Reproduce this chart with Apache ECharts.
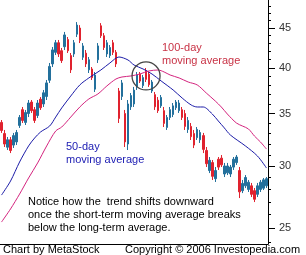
<!DOCTYPE html>
<html>
<head>
<meta charset="utf-8">
<script src="https://cdn.jsdelivr.net/npm/echarts@6/dist/echarts.min.js"></script>
<style>
html,body{margin:0;padding:0;background:#fff;}
#chart{width:306px;height:255px;}
</style>
</head>
<body>
<div id="chart"></div>
<script>
// Daily price bars (open, close, low, high)
const opens = [34.1,33.0,31.7,32.4,31.9,32.2,33.8,35.4,34.1,35.0,
  36.2,35.4,34.8,36.5,36.0,36.8,38.6,40.5,41.9,43.1,
  42.1,42.6,43.5,41.5,41.7,44.2,45.0,41.3,41.8,39.8,
  39.9,37.6,41.0,45.3,44.0,41.7,41.5,43.1,41.9,37.4,
  36.8,35.0,32.0,35.7,36.0,37.9,39.3,38.0,39.7,39.3,
  37.4,37.0,36.4,35.8,35.3,33.6,34.6,34.9,35.6,35.3,
  35.4,35.0,33.4,33.7,33.0,32.6,32.4,32.8,31.4,29.6,
  30.3,28.9,30.6,30.7,29.3,29.4,29.3,29.9,30.3,29.6,
  27.9,28.3,28.0,28.3,27.9,27.6,28.0,28.1,28.3];
const closes = [33.3,32.0,32.4,31.4,32.8,33.1,34.6,34.3,35.1,36.1,
  35.3,34.3,36.1,35.6,37.2,38.3,40.2,42.2,43.1,41.7,
  40.9,44.1,42.1,39.8,43.1,45.4,43.4,42.7,40.5,41.0,
  38.9,39.2,42.7,44.0,42.5,43.1,42.5,41.9,40.5,34.5,
  38.3,32.2,36.0,36.9,37.5,39.2,38.5,38.9,38.7,38.1,
  38.4,35.7,35.3,36.7,34.0,34.6,35.4,35.8,36.2,36.1,
  34.6,33.7,34.3,32.7,31.9,33.4,33.1,31.5,30.2,30.5,
  29.1,29.6,29.9,30.1,30.0,30.0,29.9,30.6,30.8,27.8,
  28.5,29.0,28.6,27.6,27.2,28.3,28.6,28.8,28.9];
const lows = [33.06,31.72,31.44,31.16,31.63,31.91,33.55,34.04,33.84,34.64,
  35.06,34.04,34.54,35.37,35.68,36.42,38.29,40.13,41.57,41.33,
  40.61,42.19,41.82,39.43,41.33,43.83,43.06,40.97,40.13,39.43,
  38.63,37.29,40.61,43.71,42.19,41.33,41.21,41.57,40.13,34.04,
  36.42,31.72,31.44,35.37,35.68,37.51,38.29,37.73,38.40,37.85,
  37.18,35.37,35.06,35.58,33.64,33.35,34.34,34.64,35.37,35.06,
  34.34,33.35,33.06,32.38,31.62,32.38,32.10,31.16,29.91,29.38,
  28.79,28.62,29.65,29.91,29.04,29.21,29.04,29.65,30.09,27.30,
  27.70,28.11,27.79,27.38,26.98,27.38,27.79,27.95,28.12];
const highs = [34.34,33.35,32.67,32.67,33.06,33.35,34.85,35.68,35.37,36.42,
  36.42,35.68,36.42,36.74,37.51,38.63,40.61,42.56,43.45,43.45,
  42.44,44.49,43.83,41.82,43.45,45.80,45.39,43.06,42.19,41.33,
  40.13,39.55,43.06,45.66,44.35,43.45,42.81,43.45,42.19,37.73,
  38.63,35.37,36.42,37.18,37.85,39.55,39.55,39.20,40.01,39.55,
  38.63,37.29,36.74,36.96,35.68,34.85,35.68,36.10,36.42,36.42,
  35.68,35.37,34.64,34.04,33.35,33.64,33.35,33.06,31.72,30.80,
  30.53,29.91,30.80,30.98,30.27,30.27,30.09,30.80,30.98,29.91,
  28.79,29.21,28.79,28.54,28.12,28.54,28.79,28.96,29.04];

// 50-day moving average (read at selected days)
const ma50Days = [0,3,6,9,11,13,16,18,20,23,26,29,33,36,39,42,44,47,50,53,57,60,63,65,67,70,72,74,76,81,85,88];
const ma50Values = [27.54,28.70,30.35,31.82,32.57,33.16,33.74,34.64,35.58,36.85,38.07,38.86,39.78,40.61,41.33,40.97,40.37,39.90,39.31,38.52,37.51,36.63,35.89,35.68,35.68,34.95,34.24,33.55,32.86,31.82,30.89,29.82];

// 100-day moving average (read at selected days)
const ma100Days = [0,3,6,9,12,15,18,20,23,26,29,32,35,38,40,43,46,49,52,54,56,59,62,65,68,71,73,75,78,80,82,84,86,88];
const ma100Values = [25.44,26.44,27.62,28.96,30.27,31.82,33.25,33.64,34.64,35.68,36.53,37.07,37.96,38.74,38.97,39.09,39.32,39.67,39.78,39.55,39.20,38.86,38.40,38.07,37.18,36.31,35.68,34.95,34.04,33.74,33.45,32.76,32.19,31.53];

// Axis ticks
const yMin = 23.85, yMax = 48.87;
const majorTicks = [25,30,35,40,45];
const minorTicks = [24,25,26,27,28,29,30,31,32,33,34,35,36,37,38,39,40,41,42,43,44,45,46,47,48];

// Crossover highlight (day, price)
const crossDay = 48, crossPrice = 39.09;

const days = opens.map((_, i) => i);
const ohlc = opens.map((o, i) => [o, closes[i], lows[i], highs[i]]);
const ma50 = ma50Days.map((d, i) => [d, ma50Values[i]]);
const ma100 = ma100Days.map((d, i) => [d, ma100Values[i]]);

const FONT = '"Liberation Sans", Arial, sans-serif';
const chart = echarts.init(document.getElementById('chart'), null, {renderer: 'canvas'});
chart.setOption({
  animation: false,
  backgroundColor: '#fff',
  grid: {left: 0, right: 38, top: 0, bottom: 11, containLabel: false},
  xAxis: {
    type: 'category', data: days, boundaryGap: true,
    axisLine: {show: true, lineStyle: {color: '#000', width: 1}},
    axisTick: {show: false}, axisLabel: {show: false}, splitLine: {show: false}
  },
  yAxis: [{
    type: 'log', logBase: 10, position: 'right', min: yMin, max: yMax,
    axisLine: {show: true, lineStyle: {color: '#000', width: 1}},
    axisTick: {show: true, customValues: majorTicks, length: 7, lineStyle: {color: '#000'}},
    axisLabel: {show: true, customValues: majorTicks, margin: 11, color: '#333', fontSize: 11, fontFamily: FONT},
    splitLine: {show: false}
  }, {
    type: 'log', logBase: 10, position: 'right', min: yMin, max: yMax,
    axisLine: {show: false},
    axisTick: {show: true, customValues: minorTicks, length: 3, lineStyle: {color: '#000'}},
    axisLabel: {show: false},
    splitLine: {show: false}
  }],
  series: [{
    type: 'candlestick', data: ohlc, barWidth: 2,
    itemStyle: {color: '#23709c', color0: '#e0222e', borderColor: '#23709c', borderColor0: '#e0222e', borderWidth: 1},
    markPoint: {
      silent: true,
      data: [{coord: [crossDay, crossPrice], symbol: 'circle', symbolSize: 28,
        itemStyle: {color: 'rgba(0,0,0,0)', borderColor: '#444', borderWidth: 1.3},
        label: {show: false}}]
    }
  }, {
    type: 'line', data: ma50, connectNulls: true, smooth: 0.3, showSymbol: false,
    lineStyle: {color: '#1c1ca8', width: 1}
  }, {
    type: 'line', data: ma100, connectNulls: true, smooth: 0.3, showSymbol: false,
    lineStyle: {color: '#d4237e', width: 1}
  }],
  graphic: [
    {type: 'text', left: 162, top: 41, style: {text: '100-day\nmoving average', fill: '#c83245', font: '11px ' + FONT, lineHeight: 13}},
    {type: 'text', left: 66, top: 140, style: {text: '50-day\nmoving average', fill: '#2020b4', font: '11px ' + FONT, lineHeight: 13}},
    {type: 'text', left: 28, top: 195, style: {text: 'Notice how the  trend shifts downward\nonce the short-term moving average breaks\nbelow the long-term average.', fill: '#000', font: '11px ' + FONT, lineHeight: 13}},
    {type: 'text', left: 3, top: 244, style: {text: 'Chart by MetaStock', fill: '#000', font: '11px ' + FONT}},
    {type: 'text', left: 125, top: 244, style: {text: 'Copyright \u00a9 2006 Investopedia.com', fill: '#000', font: '11px ' + FONT}}
  ]
});
</script>
</body>
</html>
